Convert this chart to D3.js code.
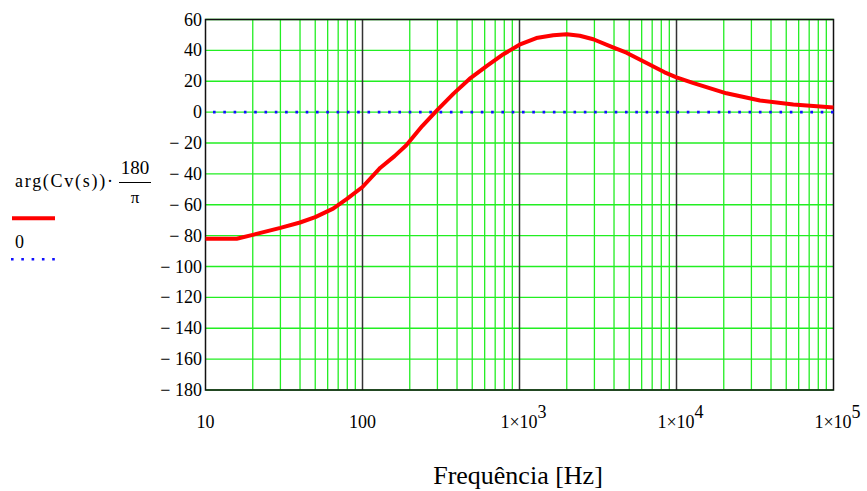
<!DOCTYPE html>
<html><head><meta charset="utf-8"><script src="https://cdn.jsdelivr.net/npm/d3@7"></script></head>
<body style="margin:0">
<svg id="chart" width="867" height="491"></svg>
<script>
// Phase of Cv(s) in degrees versus frequency
const freqHz = [10, 15.8, 20, 30, 40, 50, 65, 80, 100, 130, 160, 190, 240, 300, 380, 480, 620, 790,
                1000, 1280, 1640, 2000, 2420, 2950, 3940, 4800, 6400, 8400, 10000, 12700, 20800, 34000, 55500, 100000];
const phaseDeg = [-82, -82, -79.5, -75, -71.5, -68, -62.5, -56, -48.5, -36, -28.5, -21.5, -9, 1.5, 12, 21.5, 30, 37.5,
                  43.7, 48, 49.8, 50.5, 49.5, 47.2, 42, 38.5, 32, 25.8, 22.5, 19, 12.2, 7.5, 4.9, 3];
const zeroLine = [0, 0];
const zeroFreq = [10, 100000];

const yTicks = [60, 40, 20, 0, -20, -40, -60, -80, -100, -120, -140, -160, -180];
const xDecades = [10, 100, 1000, 10000, 100000];
const xTickLabels = ["10", "100", "1×10^3", "1×10^4", "1×10^5"];
const legendExpr = "arg(Cv(s))·";
const legendNum = "180";
const legendDen = "π";
const legendZero = "0";
const xTitle = "Frequência [Hz]";

const FONT = "Liberation Serif";
const svg = d3.select("#chart").attr("font-family", FONT);
const L = 205.5, R = 833.5, T = 19.5, B = 390;

const x = d3.scaleLog().domain([10, 100000]).range([L, R]);
const y = d3.scaleLinear().domain([-180, 60]).range([B, T]);

// helper: serif text node
function label(parent) {
  return parent.append("text").attr("font-family", FONT).style("font-family", "'Liberation Serif', 'Times New Roman', serif");
}

// minor log grid (2..9 in each decade)
const minor = [];
for (let d = 10; d < 100000; d *= 10) for (let k = 2; k <= 9; k++) minor.push(d * k);

const grid = svg.append("g");
grid.selectAll("line.mx").data(minor).enter().append("line")
  .attr("x1", d => x(d)).attr("x2", d => x(d)).attr("y1", T).attr("y2", B)
  .attr("stroke", "#22ee22").attr("stroke-width", 1.3);
grid.selectAll("line.hy").data(yTicks).enter().append("line")
  .attr("x1", L).attr("x2", R).attr("y1", d => y(d)).attr("y2", d => y(d))
  .attr("stroke", "#22ee22").attr("stroke-width", 1.3);
grid.selectAll("line.dx").data(xDecades.slice(1, -1)).enter().append("line")
  .attr("x1", d => x(d)).attr("x2", d => x(d)).attr("y1", T).attr("y2", B)
  .attr("stroke", "#333").attr("stroke-width", 1.5);

// frame
svg.append("rect").attr("x", L).attr("y", T).attr("width", R - L).attr("height", B - T)
  .attr("fill", "none").attr("stroke", "#111").attr("stroke-width", 1.5);

// zero reference (dotted)
svg.append("path")
  .datum(zeroFreq.map((f, i) => [f, zeroLine[i]]))
  .attr("d", d3.line().x(d => x(d[0])).y(d => y(d[1])))
  .attr("fill", "none").attr("stroke", "#1010ff").attr("stroke-width", 2.6)
  .attr("stroke-dasharray", "2.6,7.7").attr("stroke-dashoffset", -7.5);

// phase curve
svg.append("path")
  .datum(freqHz.map((f, i) => [f, phaseDeg[i]]))
  .attr("d", d3.line().x(d => x(d[0])).y(d => y(d[1])))
  .attr("fill", "none").attr("stroke", "#ff0000").attr("stroke-width", 4)
  .attr("stroke-linejoin", "round");

// y tick labels
const yl = svg.append("g");
yTicks.forEach(d => {
  label(yl).attr("x", 202).attr("y", y(d) + 6)
    .attr("text-anchor", "end").attr("font-size", 18).attr("fill", "#000")
    .text(d < 0 ? "\u2212 " + Math.abs(d) : String(d));
});

// x tick labels
const xl = svg.append("g");
xDecades.forEach((d, i) => {
  const parts = xTickLabels[i].split("^");
  const t = label(xl).attr("x", x(d) + (parts.length > 1 ? 4 : 0)).attr("y", 428)
    .attr("text-anchor", "middle").attr("font-size", 18).attr("fill", "#000");
  t.append("tspan").text(parts[0]);
  if (parts.length > 1) t.append("tspan").attr("dy", -10).attr("font-size", 18).text(parts[1]);
});

// x axis title
label(svg).attr("x", 518).attr("y", 484).attr("text-anchor", "middle")
  .attr("font-size", 26).attr("fill", "#000").text(xTitle);

// legend
const lg = svg.append("g").attr("fill", "#000");
label(lg).attr("x", 15).attr("y", 187).attr("font-size", 18)
  .attr("textLength", 98).attr("lengthAdjust", "spacing").text(legendExpr);
label(lg).attr("x", 135).attr("y", 174).attr("text-anchor", "middle")
  .attr("font-size", 19).text(legendNum);
lg.append("line").attr("x1", 119).attr("x2", 151).attr("y1", 182.5).attr("y2", 182.5)
  .attr("stroke", "#000").attr("stroke-width", 1);
label(lg).attr("x", 135).attr("y", 203).attr("text-anchor", "middle")
  .attr("font-size", 17).text(legendDen);
lg.append("line").attr("x1", 12).attr("x2", 55).attr("y1", 218.3).attr("y2", 218.3)
  .attr("stroke", "#ff0000").attr("stroke-width", 4);
label(lg).attr("x", 15).attr("y", 248).attr("font-size", 18).text(legendZero);
lg.append("line").attr("x1", 11).attr("x2", 56).attr("y1", 259.3).attr("y2", 259.3)
  .attr("stroke", "#1010ff").attr("stroke-width", 2.6).attr("stroke-dasharray", "2.6,7.7");
</script>
</body>
</html>
